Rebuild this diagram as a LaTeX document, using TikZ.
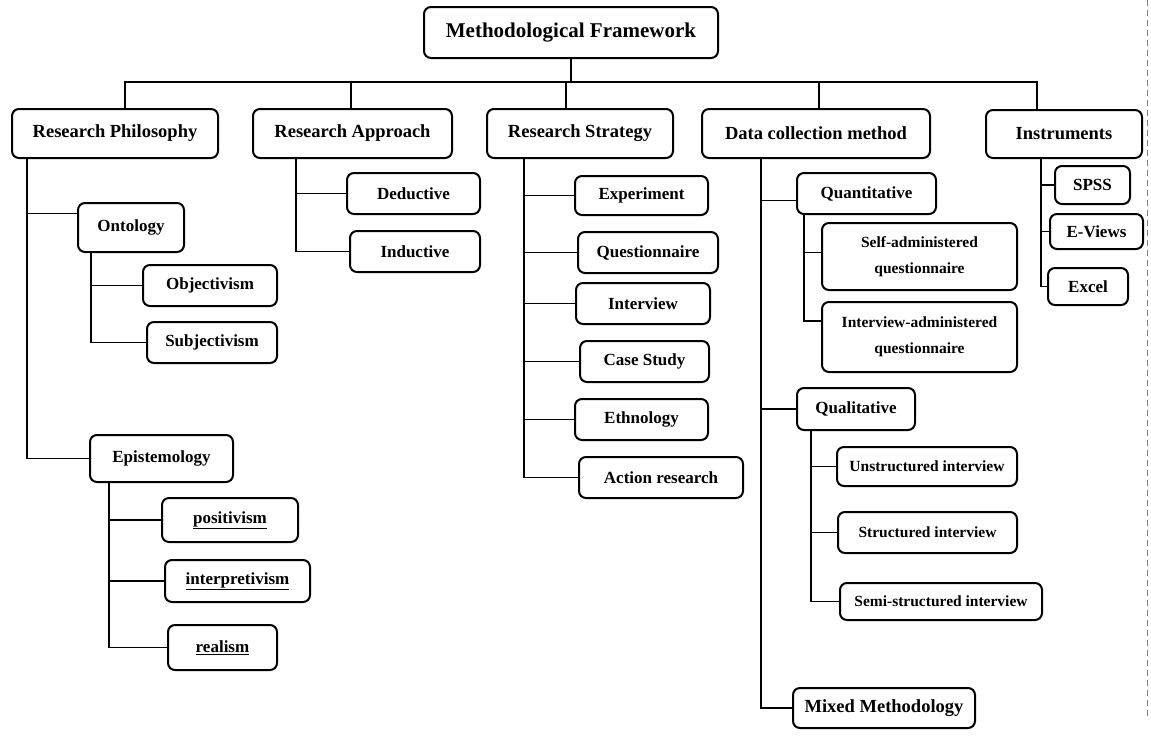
\documentclass[tikz,border=0pt]{standalone}
\usepackage{fontspec}
\setmainfont{Liberation Serif}
\begin{document}
\begin{tikzpicture}[x=1pt,y=-1pt,
  box/.style={draw, rounded corners=7pt, line width=2pt, inner sep=0pt, align=center,
    font=\bfseries\fontsize{17}{20}\selectfont},
  big/.style={font=\bfseries\fontsize{18.5}{22}\selectfont},
  huge/.style={font=\bfseries\fontsize{21}{24}\selectfont},
  small/.style={font=\bfseries\fontsize{15.5}{26}\selectfont},
  link/.style={line width=1.5pt}]
\useasboundingbox (0,0) rectangle (1151,740);
% top
\node[box,huge,minimum width=294,minimum height=51] (top) at (571,32.5) {Methodological Framework};
% level 1
\node[box,big,minimum width=206,minimum height=49] (rp) at (115,133.5) {Research Philosophy};
\node[box,big,minimum width=199,minimum height=49] (ra) at (352.5,133.5) {Research Approach};
\node[box,big,minimum width=186,minimum height=49] (rs) at (580,133.5) {Research Strategy};
\node[box,big,minimum width=228,minimum height=49] (dcm) at (816,133.5) {Data collection method};
\node[box,big,minimum width=156,minimum height=48] (ins) at (1064,134) {Instruments};
% philosophy
\node[box,minimum width=106,minimum height=49] (onto) at (131,227.5) {Ontology};
\node[box,minimum width=134,minimum height=41] (obj) at (210,285.5) {Objectivism};
\node[box,minimum width=130,minimum height=41] (subj) at (212,342.5) {Subjectivism};
\node[box,minimum width=143,minimum height=47] (epi) at (161.5,458.5) {Epistemology};
\node[box,minimum width=136,minimum height=44] (pos) at (230,520) {\underline{positivism}};
\node[box,minimum width=145,minimum height=42] (interp) at (237.5,581) {\underline{interpretivism}};
\node[box,minimum width=109,minimum height=45] (real) at (222.5,647.5) {\underline{realism}};
% approach
\node[box,minimum width=133,minimum height=41] (ded) at (413.5,193.5) {Deductive};
\node[box,minimum width=130,minimum height=41] (ind) at (415,251.5) {Inductive};
% strategy
\node[box,minimum width=133,minimum height=39] (exp) at (641.5,195.5) {Experiment};
\node[box,minimum width=140,minimum height=41] (quest) at (648,252.5) {Questionnaire};
\node[box,minimum width=134,minimum height=41] (interv) at (643,303.5) {Interview};
\node[box,minimum width=129,minimum height=41] (case) at (644.5,361.5) {Case Study};
\node[box,minimum width=133,minimum height=41] (ethno) at (641.5,419.5) {Ethnology};
\node[box,minimum width=164,minimum height=41] (action) at (661,477.5) {Action research};
% data collection
\node[box,minimum width=139,minimum height=41] (quant) at (866.5,193.5) {Quantitative};
\node[box,small,minimum width=195,minimum height=67] (self) at (919.5,256.5) {Self-administered\\questionnaire};
\node[box,small,minimum width=195,minimum height=70] (intadm) at (919.5,337) {Interview-administered\\questionnaire};
\node[box,minimum width=118,minimum height=42] (qual) at (856,409) {Qualitative};
\node[box,small,minimum width=180,minimum height=39] (unstr) at (927,466.5) {Unstructured interview};
\node[box,small,minimum width=179,minimum height=41] (struct) at (927.5,532.5) {Structured interview};
\node[box,small,minimum width=202,minimum height=37] (semi) at (941,601.5) {Semi-structured interview};
\node[box,big,minimum width=182,minimum height=40] (mixed) at (884,708) {Mixed Methodology};
% instruments
\node[box,minimum width=75,minimum height=38] (spss) at (1092.5,185) {SPSS};
\node[box,minimum width=93,minimum height=35] (eviews) at (1096.5,231.5) {E-Views};
\node[box,minimum width=80,minimum height=37] (excel) at (1088,286.5) {Excel};
% bus
\coordinate (bus) at (567,82);
\draw[link] (top.south) -- (top.south |- bus);
\draw[link] ([xshift=114pt]rp.north west) |- (bus);
\draw[link] ([xshift=99pt]ra.north west) |- (bus);
\draw[link] ([xshift=80pt]rs.north west) |- (bus);
\draw[link] ([xshift=118pt]dcm.north west) |- (bus);
\draw[link] ([xshift=52pt]ins.north west) |- (bus);
% philosophy links
\draw[link] ([xshift=16pt]rp.south west) |- ([yshift=14pt]onto.west);
\draw[link] ([xshift=16pt]rp.south west) |- (epi.west);
\draw[link] ([xshift=14pt]onto.south west) |- (obj.west);
\draw[link] ([xshift=14pt]onto.south west) |- (subj.west);
\draw[link] ([xshift=20pt]epi.south west) |- (pos.west);
\draw[link] ([xshift=20pt]epi.south west) |- (interp.west);
\draw[link] ([xshift=20pt]epi.south west) |- (real.west);
% approach links
\draw[link] ([xshift=44pt]ra.south west) |- (ded.west);
\draw[link] ([xshift=44pt]ra.south west) |- (ind.west);
% strategy links
\foreach \c in {exp,quest,interv,case,ethno,action}
  \draw[link] ([xshift=38pt]rs.south west) |- (\c.west);
% data collection links
\draw[link] ([xshift=60pt]dcm.south west) |- ([yshift=-7pt]quant.west);
\draw[link] ([xshift=60pt]dcm.south west) |- (qual.west);
\draw[link] ([xshift=60pt]dcm.south west) |- (mixed.west);
\draw[link] ([xshift=8pt]quant.south west) |- ([yshift=4pt]self.west);
\draw[link] ([xshift=8pt]quant.south west) |- ([yshift=16pt]intadm.west);
\draw[link] ([xshift=15pt]qual.south west) |- (unstr.west);
\draw[link] ([xshift=15pt]qual.south west) |- (struct.west);
\draw[link] ([xshift=15pt]qual.south west) |- (semi.west);
% instrument links
\draw[link] ([xshift=56pt]ins.south west) |- (spss.west);
\draw[link] ([xshift=56pt]ins.south west) |- (eviews.west);
\draw[link] ([xshift=56pt]ins.south west) |- (excel.west);
% page edge
\draw[gray, line width=0.8pt, dash pattern=on 6pt off 4pt] (1147,0) -- (1147,720);
\end{tikzpicture}
\end{document}
